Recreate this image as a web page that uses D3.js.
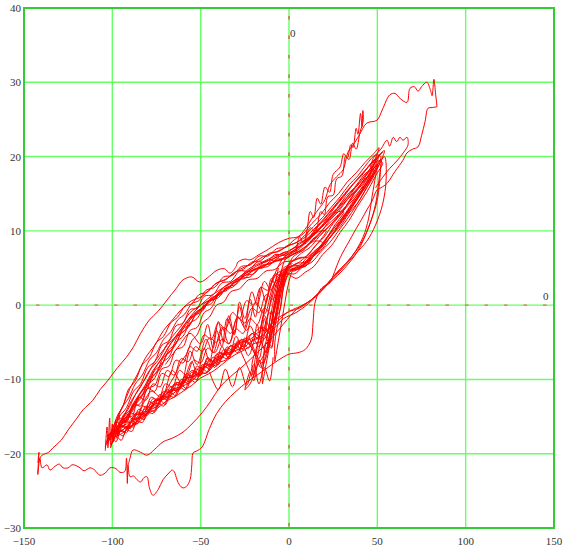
<!DOCTYPE html>
<html><head><meta charset="utf-8">
<script src="https://cdn.jsdelivr.net/npm/d3@7"></script>
<style>html,body{margin:0;padding:0;background:#fff;}svg{display:block;}</style>
</head><body>
<svg id="chart" width="566" height="548"></svg>
<script>
// ---- axis data ----
const xTicks = [-150, -100, -50, 0, 50, 100, 150];
const yTicks = [-30, -20, -10, 0, 10, 20, 30, 40];
const xDomain = [-150, 150];
const yDomain = [-30, 40];

// ---- dense hysteresis cycles (ascending lower path, then descending upper path) ----
const cycA1 = [[-104,-19],[-101,-17.2],[-98,-18.4],[-95,-16.8],[-92,-17.2],[-89,-15.6],[-86,-16],[-83,-14.6],[-80,-14.8],[-77,-13.4],[-74,-13.6],[-71,-12.2],[-68,-12.6],[-65,-11.2],[-62,-11.4],[-59,-10],[-56,-10.4],[-53,-9],[-50,-9.4],[-47,-7.8],[-44,-8.4],[-41,-7],[-38,-7.2],[-35,-6],[-32,-6.4],[-29,-5],[-26,-5.6],[-23,-4.4],[-20,-5.8],[-17,-7.2],[-15,-5.2],[-13,-2.8],[-11,-0.2],[-9,2.2],[-6,4],[-2,4.4],[3,4.2],[8,5.2],[13,5.8],[18,7.2],[23,8.4],[28,10],[33,11.6],[38,13.4],[43,15.4],[48,17.6],[52,19.4],[54,20.8],
  [51,20.2],[47,18.6],[42,17.4],[37,15.8],[32,14.6],[27,13],[22,11.8],[17,10.2],[12,9.2],[7,8],[2,7.6],[-3,6.8],[-8,6.8],[-13,5.8],[-18,5.8],[-23,4.6],[-28,4.6],[-33,3.2],[-38,3],[-43,1.4],[-48,1.2],[-52,-0.4],[-56,-0.6],[-60,-2.4],[-64,-2.8],[-68,-4.8],[-72,-5.4],[-76,-7.6],[-80,-8.4],[-84,-10.6],[-88,-11.6],[-92,-13.8],[-96,-15],[-100,-17.2],[-104,-19]];
const cycA2 = [[-99,-16.8],[-96,-16.6],[-93,-15.6],[-90,-15.8],[-87,-14.6],[-84,-14.8],[-81,-13.6],[-78,-13.8],[-75,-12.6],[-72,-12.6],[-69,-11.4],[-66,-11.6],[-63,-10.4],[-60,-10.6],[-57,-9.4],[-54,-9.6],[-51,-8.4],[-48,-8.6],[-45,-7.4],[-42,-7.6],[-39,-6.4],[-36,-6.6],[-33,-5.4],[-30,-5.8],[-27,-4.6],[-24,-5],[-21,-3.8],[-18,-4.4],[-15,-3],[-12,-3.4],[-9,-1.6],[-7,0.8],[-5,2.8],[-3,4.6],[1,5.2],[6,5.4],[11,6.6],[16,7.4],[21,9],[26,10.2],[31,12],[36,13.4],[41,15.2],[45,16.6],[48,18.2],
  [45,18],[40,16.4],[35,15.2],[30,13.6],[25,12.4],[20,10.8],[15,9.8],[10,8.4],[5,7.8],[0,6.8],[-5,6.6],[-10,5.6],[-15,5.4],[-20,4.2],[-25,4],[-30,2.8],[-35,2.4],[-40,1],[-45,0.6],[-49,-0.8],[-53,-1.4],[-57,-3],[-61,-3.8],[-65,-5.6],[-69,-6.6],[-73,-8.6],[-77,-9.6],[-81,-11.6],[-85,-12.6],[-89,-14.4],[-93,-15.2],[-96,-16.4],[-99,-16.8]];
const cycA3 = [[-102,-18.2],[-99,-17.8],[-96,-16.8],[-93,-17],[-90,-15.8],[-87,-16],[-84,-14.8],[-81,-14.8],[-78,-13.6],[-75,-13.8],[-72,-12.4],[-69,-12.8],[-66,-11.4],[-63,-11.6],[-60,-10.2],[-57,-10.6],[-54,-9.2],[-51,-9.6],[-48,-8.2],[-45,-8.6],[-42,-7.2],[-39,-7.4],[-36,-6.2],[-33,-6.6],[-30,-5.2],[-27,-6.4],[-24,-8],[-21,-9.4],[-19,-7],[-17,-4.4],[-15,-1.8],[-13,0.6],[-10,2.8],[-7,4.2],[-2,4.8],[3,4.6],[8,5.6],[13,6.4],[18,7.8],[23,9],[28,10.6],[33,12.2],[38,14],[43,15.8],[48,18],[52,20],
  [49,20.2],[44,19],[39,17.4],[34,16.2],[29,14.6],[24,13.2],[19,11.8],[14,10.6],[9,9.4],[4,8.4],[-1,8],[-6,7.2],[-11,7],[-16,6],[-21,5.8],[-26,4.8],[-31,4.4],[-36,3.4],[-41,3],[-46,1.8],[-51,1.4],[-55,0.2],[-59,-0.2],[-63,-1.6],[-67,-2.4],[-71,-4.2],[-75,-5],[-79,-7],[-83,-8],[-87,-10.2],[-91,-11.4],[-94,-13.6],[-97,-14.8],[-100,-16.8],[-102,-18.2]];
const cycA4 = [[-97,-17.4],[-94,-16.4],[-91,-16.4],[-88,-15.2],[-85,-15.2],[-82,-14],[-79,-14],[-76,-12.8],[-73,-12.8],[-70,-11.6],[-67,-11.8],[-64,-10.4],[-61,-10.6],[-58,-9.2],[-55,-9.6],[-52,-8.2],[-49,-8.6],[-46,-7.2],[-43,-7.6],[-40,-6.4],[-37,-6.6],[-34,-5.6],[-31,-5.6],[-28,-4.8],[-25,-4.6],[-22,-4],[-19,-3.6],[-16,-3],[-13,-3.8],[-10,-5.6],[-8,-3],[-6,-0.4],[-4,2.2],[-1,4.4],[4,5],[9,5.2],[14,6.6],[19,7.6],[24,9.4],[29,10.6],[34,12.4],[39,13.8],[44,15.8],[48,17.4],[50,18.8],
  [47,18.2],[42,16.4],[37,15],[32,13.2],[27,11.8],[22,10.4],[17,9.2],[12,7.8],[7,7],[2,6],[-3,5.8],[-8,4.8],[-13,4.6],[-18,3.6],[-23,3.4],[-28,2.2],[-33,1.8],[-37,0.4],[-41,0],[-45,-1.6],[-49,-2.4],[-52,-4],[-55,-4.8],[-58,-6.6],[-61,-7.6],[-64,-9.2],[-67,-10.4],[-71,-12],[-75,-13],[-79,-14.2],[-84,-15.2],[-89,-16.2],[-93,-16.6],[-97,-17.4]];
const cycA5 = [[-100,-18.6],[-97,-17.2],[-94,-17.6],[-91,-16.2],[-88,-16.4],[-85,-15],[-82,-15.4],[-79,-14],[-76,-14.4],[-73,-12.8],[-70,-13.4],[-67,-11.8],[-64,-12.2],[-61,-10.8],[-58,-11.2],[-55,-9.8],[-52,-10],[-49,-8.6],[-46,-9],[-43,-7.6],[-40,-8],[-37,-6.6],[-34,-7],[-31,-5.8],[-28,-6],[-25,-4.8],[-22,-5.4],[-19,-6.8],[-16,-8.4],[-14,-6.2],[-12,-3.6],[-10,-1],[-8,1.6],[-5,3.8],[-1,4.2],[4,3.6],[9,4.4],[14,5.2],[19,6.8],[24,8],[29,9.8],[34,11.4],[39,13.4],[44,15.2],[49,17.4],[53,19.2],
  [50,19.4],[45,17.8],[40,16.6],[35,15],[30,13.8],[25,12.2],[20,11],[15,9.6],[10,8.6],[5,7.4],[0,7],[-5,6],[-10,6],[-15,5],[-20,4.8],[-25,3.6],[-30,3.4],[-35,2],[-40,1.6],[-44,0.2],[-48,-0.2],[-52,-1.8],[-56,-2.4],[-60,-4.2],[-64,-5],[-68,-7],[-72,-7.8],[-76,-9.8],[-80,-10.8],[-84,-12.6],[-88,-13.6],[-92,-15.4],[-96,-16.4],[-100,-18.6]];
const cycA6 = [[-103,-17.6],[-100,-17],[-97,-15.8],[-94,-16.4],[-91,-15],[-88,-15.4],[-85,-14],[-82,-14.4],[-79,-13],[-76,-13.4],[-73,-12],[-70,-12.4],[-67,-11],[-64,-11.4],[-61,-10],[-58,-10.4],[-55,-9],[-52,-9.4],[-49,-8],[-46,-8.4],[-43,-7],[-40,-7.4],[-37,-6],[-34,-6.6],[-31,-5.2],[-28,-5.8],[-25,-4.4],[-22,-5.2],[-19,-3.8],[-16,-4.8],[-13,-6.4],[-11,-4],[-9,-1.4],[-7,1.2],[-4,3.4],[0,5],[5,4.8],[10,5.8],[15,6.8],[20,8.2],[25,9.6],[30,11.4],[35,13],[40,14.8],[44,16.2],[46,17.4],
  [43,17],[38,15.4],[33,14.2],[28,12.6],[23,11.4],[18,9.8],[13,8.8],[8,7.4],[3,7],[-2,6.2],[-7,6.2],[-12,5.2],[-17,5],[-22,3.8],[-27,3.6],[-32,2.4],[-37,2.2],[-42,0.8],[-47,0.4],[-51,-1],[-55,-1.6],[-59,-3.4],[-63,-4.2],[-67,-6.2],[-71,-7],[-75,-9],[-79,-10],[-83,-12],[-87,-13],[-91,-14.8],[-95,-15.6],[-99,-17],[-103,-17.6]];
const cycA7 = [[-101,-19.2],[-98,-17.6],[-95,-18.2],[-92,-16.8],[-89,-17],[-86,-15.6],[-83,-15.8],[-80,-14.4],[-77,-14.6],[-74,-13.2],[-71,-13.6],[-68,-12.2],[-65,-12.4],[-62,-11],[-59,-11.4],[-56,-10],[-53,-10.4],[-50,-9],[-47,-9.2],[-44,-8],[-41,-8.2],[-38,-7],[-35,-7.2],[-32,-6],[-29,-6.4],[-26,-5.2],[-23,-5.8],[-20,-4.6],[-17,-5.6],[-14,-4],[-11,-5.2],[-9,-3],[-7,-0.4],[-5,2],[-3,4],[0,5.6],[5,6.2],[10,6.6],[15,8],[20,9.2],[25,11],[30,12.4],[35,14.4],[40,16],[45,18],[49,19.8],[51,21.2],
  [48,20.4],[43,19.2],[38,17.8],[33,16.6],[28,15],[23,13.8],[18,12.2],[13,11],[8,9.6],[3,8.8],[-2,7.8],[-7,7.6],[-12,6.6],[-17,6.6],[-22,5.4],[-27,5.2],[-32,4],[-37,3.8],[-42,2.4],[-47,2],[-51,0.6],[-55,0.2],[-59,-1.2],[-63,-2],[-67,-3.6],[-71,-4.6],[-75,-6.4],[-79,-7.4],[-83,-9.4],[-87,-10.6],[-91,-12.6],[-95,-14],[-98,-16.2],[-101,-19.2]];
const cycA8 = [[-95,-15.8],[-92,-15.6],[-89,-14.6],[-86,-14.8],[-83,-13.6],[-80,-13.8],[-77,-12.6],[-74,-12.8],[-71,-11.6],[-68,-11.8],[-65,-10.6],[-62,-10.8],[-59,-9.6],[-56,-9.8],[-53,-8.6],[-50,-8.8],[-47,-7.6],[-44,-8],[-41,-6.6],[-38,-7],[-35,-5.6],[-32,-6.2],[-29,-4.8],[-26,-5.4],[-23,-6.8],[-20,-5],[-18,-2.6],[-16,-4.6],[-14,-1.8],[-12,-3.8],[-10,-0.8],[-8,-2.6],[-6,0.6],[-4,2.8],[-1,4.6],[4,5.6],[9,5.8],[14,7.2],[19,8.2],[24,10],[29,11.2],[34,13],[39,14.6],[44,16.6],[47,18.2],[49,19.6],
  [46,19],[41,17.4],[36,16.2],[31,14.6],[26,13.2],[21,11.6],[16,10.6],[11,9],[6,8.4],[1,7.4],[-4,7],[-9,6.2],[-14,5.8],[-19,4.8],[-24,4.4],[-29,3.2],[-34,2.8],[-39,1.4],[-44,1],[-48,-0.4],[-52,-0.8],[-56,-2.6],[-60,-3.2],[-64,-5.2],[-68,-6],[-72,-8],[-76,-8.8],[-80,-10.8],[-84,-11.8],[-88,-13.6],[-92,-14.6],[-95,-15.8]];
const cycA9 = [[-103,-18.6],[-98,-17],[-93,-17],[-88,-15.4],[-83,-15.2],[-78,-13.6],[-73,-13],[-68,-11.6],[-63,-11.4],[-58,-9.8],[-53,-9.6],[-48,-8],[-43,-8],[-38,-6.6],[-33,-6.6],[-28,-5],[-23,-5.2],[-19,-6.6],[-15,-7.8],[-12,-5.4],[-10,-2.4],[-7,0.4],[-4,2.8],[-1,4.6],[5,4.8],[11,6.2],[18,7.8],[25,10.2],[32,12.4],[39,15],[45,17.4],[50,19.8],[53,20.6],
  [48,19.4],[42,17.8],[35,16],[28,14],[21,12],[14,10.2],[7,8.8],[0,8],[-7,7.2],[-14,6.6],[-21,5.6],[-28,4.8],[-35,3.6],[-42,2.8],[-49,1.2],[-55,0.6],[-61,-0.6],[-66,-2],[-71,-3.4],[-76,-5.4],[-81,-7],[-86,-9.4],[-90,-11.2],[-94,-13.6],[-98,-15.6],[-101,-17.2],[-103,-18.6]];
const cycA10 = [[-100,-17.8],[-95,-16.4],[-90,-16.6],[-85,-14.8],[-80,-14.6],[-75,-12.8],[-70,-12.6],[-65,-10.8],[-60,-10.6],[-55,-8.8],[-50,-9.4],[-46,-7],[-42,-8.4],[-38,-5.6],[-34,-7.2],[-30,-4.2],[-26,-6],[-22,-2.8],[-18,-4.6],[-14,-1.4],[-11,-3],[-8,0.6],[-5,2.8],[-2,4.8],[3,5.4],[9,5.2],[15,7],[22,8.8],[29,11],[36,13.6],[42,15.8],[48,18.4],[51,20.2],
  [47,19.2],[41,17.6],[34,15.6],[27,13.6],[20,11.6],[13,9.6],[6,8.2],[-1,7.2],[-8,6.6],[-15,5.8],[-22,5],[-29,3.6],[-36,2.6],[-43,1],[-50,0],[-56,-1],[-61,-2.8],[-66,-4.2],[-71,-6],[-76,-7.6],[-81,-9.8],[-86,-11.6],[-91,-14],[-96,-15.8],[-100,-17.8]];

// ---- cycles whose rising branch follows the lower right band ----
const cycB1 = [[-101,-17.6],[-96,-16.4],[-92,-16],[-87,-14.8],[-82,-14.4],[-77,-13],[-72,-12.6],[-67,-11.4],[-62,-11],[-57,-9.8],[-52,-9.4],[-47,-8.2],[-42,-7.8],[-37,-6.6],[-32,-6.2],[-27,-5],[-22,-4.6],[-17,-3.6],[-12,-3.2],[-8,-2],[-4,-1.4],[2,-0.6],[8,0],[15,1.2],[22,3],[29,4.8],[35,6.4],[40,8],[45,10.4],[49,13.6],[51,17],[52,19.6],
  [48,18.4],[42,16.6],[35,14.8],[27,12.6],[19,10.6],[11,8.8],[3,7.4],[-5,6.6],[-14,5.8],[-23,4.6],[-33,3],[-42,1.6],[-50,0],[-56,-1.6],[-61,-3.2],[-66,-4.8],[-71,-6.8],[-76,-8.6],[-81,-10.8],[-86,-12.6],[-91,-14.8],[-96,-16.4],[-101,-17.6]];
const cycB2 = [[-99,-17.8],[-94,-17.2],[-90,-16.4],[-85,-15.8],[-80,-14.6],[-75,-14],[-70,-13],[-65,-12.4],[-60,-11.6],[-55,-10.8],[-50,-9.8],[-45,-9.2],[-40,-8.4],[-35,-7.4],[-30,-6.6],[-25,-6],[-20,-5.2],[-15,-4.8],[-11,-3.6],[-7,-2.8],[-3,-1.8],[4,-1],[11,0.2],[18,1.8],[25,3.6],[32,5.4],[38,7],[44,8.6],[49,10.8],[53,13.6],[55,17],[54,20],
  [49,18],[43,16.2],[36,14.4],[28,12.2],[20,10.4],[12,8.4],[4,7],[-4,6.2],[-13,5.4],[-22,4.4],[-32,2.8],[-41,1.2],[-48,-0.2],[-54,-1.2],[-59,-2.6],[-64,-4.2],[-69,-5.4],[-74,-7.4],[-79,-8.8],[-84,-11],[-89,-12.8],[-94,-15.2],[-99,-17.8]];
const cycB3 = [[-103,-18.4],[-98,-17.2],[-94,-16.8],[-89,-15.6],[-85,-15.2],[-80,-14.2],[-76,-13.8],[-71,-12.6],[-66,-12],[-61,-11],[-56,-10.4],[-51,-9.4],[-46,-9],[-41,-7.8],[-36,-7.4],[-31,-6.2],[-26,-5.8],[-21,-4.8],[-17,-4.4],[-12,-3.4],[-8,-2.6],[-1,-1],[6,-0.4],[13,0.8],[20,2.4],[27,4.4],[33,5.8],[38,7.4],[42,9.2],[45,11.6],[47,14.6],[49,17.4],[50,19],
  [47,17.2],[41,15.4],[34,13.6],[26,11.4],[18,9.6],[10,8],[2,6.8],[-7,6],[-16,5.2],[-25,4.2],[-35,2.2],[-44,0.8],[-51,-0.8],[-57,-2.2],[-62,-3.8],[-67,-5.2],[-72,-7.2],[-77,-8.8],[-82,-11],[-87,-12.8],[-92,-15],[-97,-16.6],[-103,-18.4]];

// ---- paths filling the wedge between the two left branches ----
const wedge1 = [[-100,-17.6],[-96,-15.2],[-92,-15.8],[-88,-13.2],[-84,-13.6],[-80,-11.2],[-76,-11.6],[-72,-9.2],[-68,-9.6],[-64,-7.4],[-60,-7.8],[-56,-5.6],[-52,-6.2],[-48,-4],[-44,-4.6],[-40,-2.4],[-36,-3.2],[-32,-1],[-28,-1.8],[-24,0.6],[-20,0],[-16,2.4],[-12,2],[-8,4.2],[-4,4],[0,5.6]];
const wedge2 = [[-97,-17],[-93,-14.6],[-89,-15],[-85,-12.4],[-81,-12.8],[-77,-10.6],[-73,-11],[-69,-8.8],[-65,-9.4],[-61,-7.2],[-57,-7.6],[-53,-5.6],[-49,-6.2],[-45,-4.4],[-41,-5],[-37,-3],[-33,-3.8],[-29,-1.6],[-25,-2.4],[-21,-0.4],[-17,-1],[-13,1.4],[-9,0.8],[-5,3.4],[-1,4.6]];
const wedge3 = [[-40,1.6],[-44,-0.4],[-48,-1],[-52,-3],[-56,-3.4],[-60,-5.6],[-64,-6],[-68,-8.2],[-72,-8.6],[-76,-10.8],[-80,-11.2],[-84,-13.2],[-88,-13.8],[-92,-15.6],[-96,-16.2],[-100,-17.8]];
const wedge4 = [[-98,-18],[-94,-16.2],[-90,-16.6],[-86,-14.4],[-82,-14.6],[-78,-12.4],[-74,-12.8],[-70,-10.6],[-66,-11],[-62,-8.8],[-58,-9.4],[-54,-7.4],[-50,-7.8],[-46,-5.8],[-42,-6.4],[-38,-4.6],[-34,-5.2],[-30,-3.2],[-26,-3.8],[-22,-1.8],[-18,-2.6],[-14,-0.4],[-10,-1.2],[-6,1.8],[-2,3.4]];

// ---- smaller inner cycles (steep central strand) ----
const small1 = [[-15,-10.6],[-13,-8],[-11,-5.4],[-9,-2.8],[-6,0.2],[-3,2.8],[1,4.8],[7,5.2],[13,6.8],[20,8.6],[26,10.8],[31,12.6],[26,12.4],[19,10.8],[11,9],[4,7.4],[-2,6.2],[-5,3.8],[-8,0.4],[-10,-3],[-12,-6.2],[-15,-8.6],[-15,-10.6]];
const small2 = [[-20,-9.6],[-18,-7.2],[-16,-4.8],[-13,-2.2],[-10,0.6],[-7,3],[-3,4.8],[3,5.4],[9,6.4],[15,8],[21,10],[16,9.8],[9,8.4],[3,7.4],[-3,6.4],[-8,4.2],[-12,1.2],[-15,-2],[-18,-5.4],[-21,-8],[-20,-9.6]];
const small3 = [[-25,-11.4],[-22,-9],[-20,-10.2],[-17,-7.4],[-15,-8.6],[-13,-5],[-10,-5.8],[-8,-2],[-5,-0.6],[-3,2.4],[1,4.6],[6,5],[12,6.2],[6,6.4],[0,5.4],[-4,3],[-7,-0.8],[-10,-3.8],[-14,-6.6],[-18,-8.2],[-22,-10.6],[-25,-11.4]];
const small4 = [[-8,-7.6],[-6,-4.8],[-4,-2],[-2,0.8],[0,3.2],[3,5],[8,5.4],[14,6.8],[19,8.4],[14,8.6],[8,7.4],[2,6.4],[-2,4],[-4,1.2],[-6,-2],[-8,-5],[-8,-7.6]];

// ---- jagged paths in the centre of the loop ----
const jag1 = [[-70,-8],[-62,-5.4],[-56,-3.8],[-50,-5.2],[-46,-2.6],[-43,-5.8],[-40,-2.2],[-37,-5],[-34,-1.4],[-31,-4],[-28,-0.2],[-25,-3],[-22,0.8],[-19,-1.6],[-16,2.4],[-13,0.4],[-10,3.6],[-7,2.4],[-4,4.8],[2,5.6]];
const jag2 = [[-85,-14.8],[-78,-11.6],[-72,-12.4],[-66,-8.8],[-61,-10.4],[-56,-6.2],[-52,-8],[-47,-4.6],[-43,-6.4],[-38,-3],[-34,-5.2],[-29,-1.6],[-24,-3.4],[-19,0.4],[-14,-1.2],[-9,2.6],[-4,4.2]];
const jag3 = [[-60,-11],[-55,-7.6],[-52,-9.4],[-48,-5.8],[-45,-7.6],[-41,-3.4],[-38,-5.6],[-35,-1.8],[-31,-3.8],[-28,0.4],[-25,-1.8],[-21,1.8],[-18,0],[-14,3.2],[-10,2],[-6,5]];
const jag4 = [[-45,-9],[-40,-11.4],[-36,-8.6],[-32,-11],[-28,-8.4],[-24,-10.8],[-20,-8],[-17,-10.6],[-14,-8.4],[-11,-10.2],[-9,-7]];
const tipJitter = [[-104,-19.6],[-103,-16.4],[-102.5,-19.2],[-101.5,-15.2],[-101,-18.8],[-100,-16],[-99.5,-18.4],[-98,-15.6],[-97,-17.6],[-96,-14.8]];

// ---- large outer excursions ----
const outerUp = [[-141,-20.6],[-139.8,-20.2],[-136,-19.8],[-133.6,-19.2],[-129,-18.2],[-125,-16.8],[-120,-15.2],[-116.6,-14.1],[-111,-12.8],[-107,-11.4],[-102.4,-10.1],[-97,-8.4],[-92,-7],[-88,-5.6],[-84,-3.8],[-79,-2],[-74,-0.8],[-69,0.7],[-64,2.2],[-60,3.4],[-55,3.8],[-50.4,3.1],[-45,3.9],[-40.8,4.7],[-36.5,4.9],[-33.4,4.3],[-30,5.2],[-28.9,5.8],[-25,6.2],[-22,6.1],[-17,6.8],[-12.5,7.4],[-6,8.4],[0,9],[5,9.2],[9,10.2],[13.6,11.9],[17,13],[20.4,14.2],[23.2,16.2],[27,17.3],[30.6,18.2],[33.4,20.6],[37,21.8],[40,23],[44,24.5],[49.8,24.9],[53,26.4],[57,28.3],[60,28.5],[63,27.8],[66.8,27.3],[68.5,29.2],[71,29.4],[73,28.8],[75,29.4],[78,30],[80,29],[81,28.2],[82,30.4],[83,28.4],[83.8,26.7]];
const outerDown = [[83.8,26.7],[81,26.6],[78.7,26.5],[77,24.7],[75,22.8],[73,21.3],[70,21],[66.8,20.5],[64.5,19.5],[60,18],[55.5,16.4],[52,15.8],[49.8,15.5],[47,14],[44,12.8],[41,11.5],[38.5,10.5],[34.5,8.8],[29,6.4],[25,4],[23.2,3.0],[20,2.6],[17.5,2.0],[14.7,0.3],[13.6,-2.4],[12.5,-4.7],[9,-6],[5,-6.4],[0,-6.6],[-6,-7.4],[-12,-8.4],[-18,-9.4],[-24,-10.4],[-30,-11.6],[-36,-13],[-41,-14.6],[-45,-16.6],[-49.2,-19.1],[-52,-19.6],[-54.3,-19.9],[-55,-21.5],[-56,-23.5],[-58,-24.4],[-60,-24.6],[-62,-24.2],[-63.4,-23.5],[-65,-22.4],[-66.2,-22.2],[-68,-22.6],[-71.3,-23.5],[-74,-24.8],[-77,-25.6],[-79,-24.6],[-80.4,-23.1],[-82,-23.2],[-84,-23.8],[-86,-23.5],[-88,-23],[-90,-23.1],[-91.1,-21.5],[-91.5,-24],[-92,-20.6],[-93,-22.4],[-95.7,-22.5],[-98,-22],[-101.3,-21.9],[-104,-22.6],[-107,-22.9],[-110,-22.2],[-112.6,-21.9],[-116,-22.3],[-118.3,-21.9],[-120.5,-21.6],[-122.8,-21.5],[-125,-21.9],[-127.9,-21.9],[-130,-21.4],[-132.5,-21.7],[-135.3,-22.2],[-137,-21.5],[-139.8,-21.9],[-141,-20.6],[-142.2,-22.8],[-141.5,-19.8],[-142,-21.2],[-141,-20.6]];
const secondDown = [[52,19],[50,14.2],[45,10.5],[39,7.3],[30,4.6],[20,2.4],[12,0.6],[5,-0.4],[-3,-2.5],[-10,-4.5],[-18,-6.4],[-26,-8.2],[-33,-9.6],[-39,-11],[-44,-12.8],[-49.2,-14.5],[-55,-16],[-60,-17.1],[-66,-17.9],[-71.3,-18.4],[-76,-19.4],[-80.4,-20.2],[-84,-19.8],[-88.3,-19.5],[-90,-20.6],[-91,-21.5]];
const spikeUp = [[4,7],[6,9.2],[8,8.4],[10.2,10.1],[12,12.6],[14,11.8],[16,14.4],[18,13.6],[20.4,15.9],[23,15.2],[25,17.6],[28.9,18.6],[31,20.4],[33,19.8],[35,21.6],[36.2,21.2],[38,23.8],[39,23],[40.5,25.8],[41.3,24],[41.8,26.2],[42,24.8],[40.2,23.3],[38,21],[36,21.8],[34,19.6],[32,20],[30,17.4],[27,17],[25,14.8],[22,14.6],[20,12.2],[18,12.6],[15,10],[12,10.4],[9,8.4]];
const tipLoop = [[46,18.6],[48,19.9],[52,21],[55.5,22.2],[57,21.4],[59,22.6],[61,22],[62.8,22.6],[64.5,22.2],[66.8,22.6],[67.4,21.6],[65,20.6],[61,19.4],[57,18.4],[53,17.2],[49,15.8]];

const allPaths = [cycA1,cycA2,cycA3,cycA4,cycA5,cycA6,cycA7,cycA8,cycA9,cycA10,cycB1,cycB2,cycB3,
  wedge1,wedge2,wedge3,wedge4,small1,small2,small3,small4,jag1,jag2,jag3,jag4,tipJitter,
  outerUp,outerDown,secondDown,spikeUp,tipLoop];

// ---- drawing ----
const svg = d3.select('#chart');
const L = 24, R = 554, T = 8, B = 528;
const x = d3.scaleLinear().domain(xDomain).range([L, R]);
const y = d3.scaleLinear().domain(yDomain).range([B, T]);
const gridCol = '#66ff66', frameCol = '#33cc33';

const grid = svg.append('g');
xTicks.filter(v => v > xDomain[0] && v < xDomain[1]).forEach(v => {
  grid.append('line').attr('x1', x(v)).attr('x2', x(v)).attr('y1', T).attr('y2', B)
    .attr('stroke', gridCol).attr('stroke-width', 1.4);
});
yTicks.filter(v => v > yDomain[0] && v < yDomain[1]).forEach(v => {
  grid.append('line').attr('x1', L).attr('x2', R).attr('y1', y(v)).attr('y2', y(v))
    .attr('stroke', gridCol).attr('stroke-width', 1.4);
});

svg.append('clipPath').attr('id', 'clip').append('rect')
  .attr('x', L).attr('y', T).attr('width', R - L).attr('height', B - T);

const line = d3.line().x(d => x(d[0])).y(d => y(d[1])).curve(d3.curveCatmullRom.alpha(0.5));
const dataG = svg.append('g').attr('clip-path', 'url(#clip)');
allPaths.forEach(p => {
  dataG.append('path').attr('d', line(p)).attr('fill', 'none')
    .attr('stroke', '#ff0000').attr('stroke-width', 1);
});

// zero marker lines (dashed)
svg.append('line').attr('x1', x(0)).attr('x2', x(0)).attr('y1', T).attr('y2', B)
  .attr('stroke', '#cc6644').attr('stroke-width', 1.4).attr('stroke-dasharray', '3.5,16')
  .attr('stroke-dashoffset', -8);
svg.append('line').attr('x1', L).attr('x2', R).attr('y1', y(0)).attr('y2', y(0))
  .attr('stroke', '#ee6655').attr('stroke-width', 1.4).attr('stroke-dasharray', '3.5,16')
  .attr('stroke-dashoffset', -12);

// frame
svg.append('rect').attr('x', L).attr('y', T).attr('width', R - L).attr('height', B - T)
  .attr('fill', 'none').attr('stroke', frameCol).attr('stroke-width', 2);

const fmt = v => (v < 0 ? '\u2212' + Math.abs(v) : String(v));
const font = '"Liberation Serif","Times New Roman",serif';
svg.append('g').selectAll('text').data(xTicks).join('text')
  .attr('x', d => x(d)).attr('y', 545).attr('text-anchor', 'middle')
  .attr('font-family', font).attr('font-size', 11).attr('fill', '#333').text(fmt);
svg.append('g').selectAll('text').data(yTicks).join('text')
  .attr('x', 21).attr('y', d => y(d) + 4).attr('text-anchor', 'end')
  .attr('font-family', font).attr('font-size', 11).attr('fill', '#333').text(fmt);

svg.append('text').attr('x', x(0) + 1).attr('y', 37).attr('font-family', font)
  .attr('font-size', 11).attr('fill', '#333').text('0');
svg.append('text').attr('x', R - 11).attr('y', y(0) - 5).attr('font-family', font)
  .attr('font-size', 11).attr('fill', '#333').text('0');
</script>
</body></html>
